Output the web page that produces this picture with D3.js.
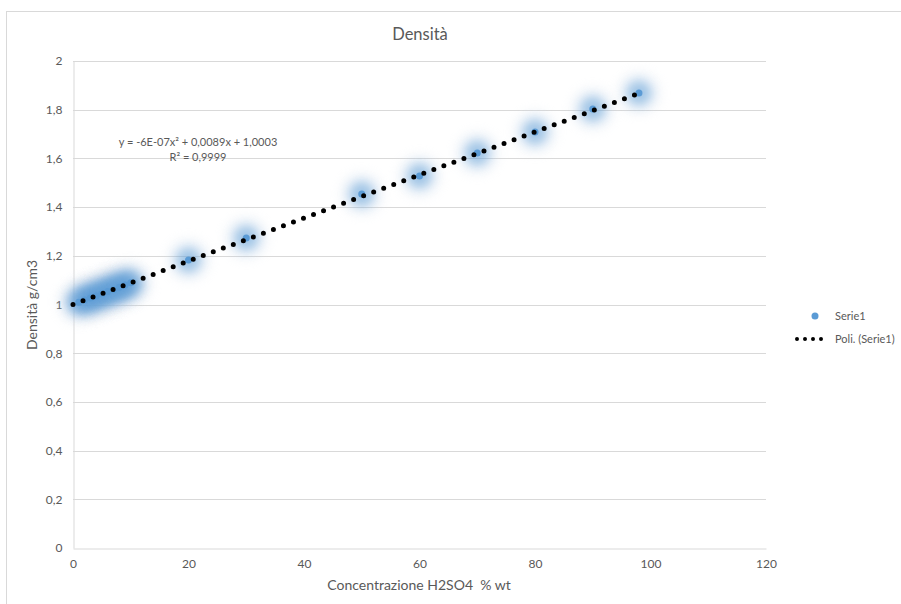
<!DOCTYPE html>
<html>
<head>
<meta charset="utf-8">
<script src="https://cdn.jsdelivr.net/npm/d3@7"></script>
<style>
  html, body { margin: 0; padding: 0; background: #fff; }
  svg { display: block; font-family: Lato, "Open Sans", sans-serif; }
  text { white-space: pre; }
</style>
</head>
<body>
<svg id="chart" width="901" height="604"></svg>
<script>
// Concentration (% wt H2SO4) and measured density (g/cm3)
const concentration = [1, 2, 3, 4, 5, 6, 7, 8, 9, 10, 20, 30, 50, 60, 70, 80, 90, 98];
const density = [1.009, 1.018, 1.027, 1.035, 1.044, 1.053, 1.062, 1.071, 1.080, 1.089,
                 1.183, 1.273, 1.454, 1.528, 1.622, 1.708, 1.803, 1.869];

// Polynomial trendline coefficients: a*x^2 + b*x + c
const trendCoeffs = [-6e-7, 0.0089, 1.0003];
const trendLabel = ["y = -6E-07x² + 0,0089x + 1,0003", "R² = 0,9999"];

const xTicks = [0, 20, 40, 60, 80, 100, 120];
const yTicks = [0, 0.2, 0.4, 0.6, 0.8, 1, 1.2, 1.4, 1.6, 1.8, 2];

const title = "Densità";
const xTitle = "Concentrazione H2SO4  % wt";
const yTitle = "Densità g/cm3";
const legendNames = ["Serie1", "Poli. (Serie1)"];

const svg = d3.select("#chart");
const textColor = "#595959";
const gridColor = "#d9d9d9";
const markerColor = "#5b9bd5";

const x = d3.scaleLinear().domain([0, 120]).range([73, 766]);
const y = d3.scaleLinear().domain([0, 2]).range([548, 61]);
const fmt = v => d3.format("")(+v.toFixed(1)).replace(".", ",");

// chart frame
svg.append("rect")
  .attr("x", 6.5).attr("y", 11.5)
  .attr("width", 1000).attr("height", 1000)
  .attr("fill", "none").attr("stroke", gridColor);

// glow filters
const defs = svg.append("defs");
defs.append("filter").attr("id", "glow").attr("x", "-100%").attr("y", "-100%")
  .attr("width", "300%").attr("height", "300%")
  .append("feGaussianBlur").attr("stdDeviation", 5.5);
defs.append("filter").attr("id", "halo").attr("x", "-100%").attr("y", "-100%")
  .attr("width", "300%").attr("height", "300%")
  .append("feGaussianBlur").attr("stdDeviation", 4);

// horizontal gridlines
svg.append("g").selectAll("line").data(yTicks.slice(1)).join("line")
  .attr("x1", x(0)).attr("x2", x(120))
  .attr("y1", d => Math.round(y(d)) + 0.5).attr("y2", d => Math.round(y(d)) + 0.5)
  .attr("stroke", gridColor);

// axes
const xAxis = svg.append("g").attr("transform", `translate(0,${Math.round(y(0)) + 0.5})`)
  .call(d3.axisBottom(x).tickValues(xTicks).tickSize(0).tickPadding(11).tickFormat(d => d));
const yAxis = svg.append("g").attr("transform", `translate(${Math.round(x(0)) + 0.5},0)`)
  .call(d3.axisLeft(y).tickValues(yTicks).tickSize(0).tickPadding(11).tickFormat(fmt));
[xAxis, yAxis].forEach(g => {
  g.select(".domain").attr("stroke", gridColor);
  g.selectAll("text").attr("fill", textColor).attr("font-size", 12)
    .attr("font-family", "Lato, 'Open Sans', sans-serif");
});

// titles
svg.append("text").attr("x", 420).attr("y", 40).attr("text-anchor", "middle")
  .attr("fill", textColor).attr("font-size", 16.5).text(title);
svg.append("text").attr("x", 419).attr("y", 590).attr("text-anchor", "middle")
  .attr("fill", textColor).attr("font-size", 14).text(xTitle);
svg.append("text").attr("transform", "translate(37,305) rotate(-90)")
  .attr("text-anchor", "middle").attr("fill", textColor).attr("font-size", 14).text(yTitle);

// data points with glow
const pts = concentration.map((c, i) => ({ c, d: density[i] }));
const gp = svg.append("g");
gp.selectAll("circle.halo").data(pts).join("circle").attr("class", "halo")
  .attr("cx", p => x(p.c)).attr("cy", p => y(p.d)).attr("r", 24)
  .attr("fill", "#c9d6e6").attr("opacity", 0.14).attr("filter", "url(#halo)");
gp.selectAll("circle.glow").data(pts).join("circle").attr("class", "glow")
  .attr("cx", p => x(p.c)).attr("cy", p => y(p.d)).attr("r", 13)
  .attr("fill", markerColor).attr("opacity", 0.55).attr("filter", "url(#glow)");
gp.selectAll("circle.mark").data(pts).join("circle").attr("class", "mark")
  .attr("cx", p => x(p.c)).attr("cy", p => y(p.d)).attr("r", 3.5)
  .attr("fill", markerColor);

// polynomial trendline, dotted
const poly = v => trendCoeffs[0] * v * v + trendCoeffs[1] * v + trendCoeffs[2];
const xs = d3.range(0, 98.01, 0.5);
svg.append("path")
  .attr("d", d3.line().x(v => x(v)).y(v => y(poly(v)))(xs))
  .attr("fill", "none").attr("stroke", "#000").attr("stroke-width", 5)
  .attr("stroke-linecap", "round").attr("stroke-dasharray", "0 10.7");

// trendline equation
svg.append("text").attr("x", 198).attr("y", 146).attr("text-anchor", "middle")
  .attr("fill", textColor).attr("font-size", 11).text(trendLabel[0]);
svg.append("text").attr("x", 198).attr("y", 161).attr("text-anchor", "middle")
  .attr("fill", textColor).attr("font-size", 11).text(trendLabel[1]);

// legend
const lg = svg.append("g");
lg.append("circle").attr("cx", 815).attr("cy", 316).attr("r", 3.5).attr("fill", markerColor);
lg.append("text").attr("x", 835).attr("y", 320).attr("fill", textColor)
  .attr("font-size", 11).text(legendNames[0]);
lg.append("line").attr("x1", 797).attr("x2", 827).attr("y1", 339).attr("y2", 339)
  .attr("stroke", "#000").attr("stroke-width", 4).attr("stroke-linecap", "round")
  .attr("stroke-dasharray", "0 8");
lg.append("text").attr("x", 835).attr("y", 343).attr("fill", textColor)
  .attr("font-size", 11).text(legendNames[1]);
</script>
</body>
</html>
